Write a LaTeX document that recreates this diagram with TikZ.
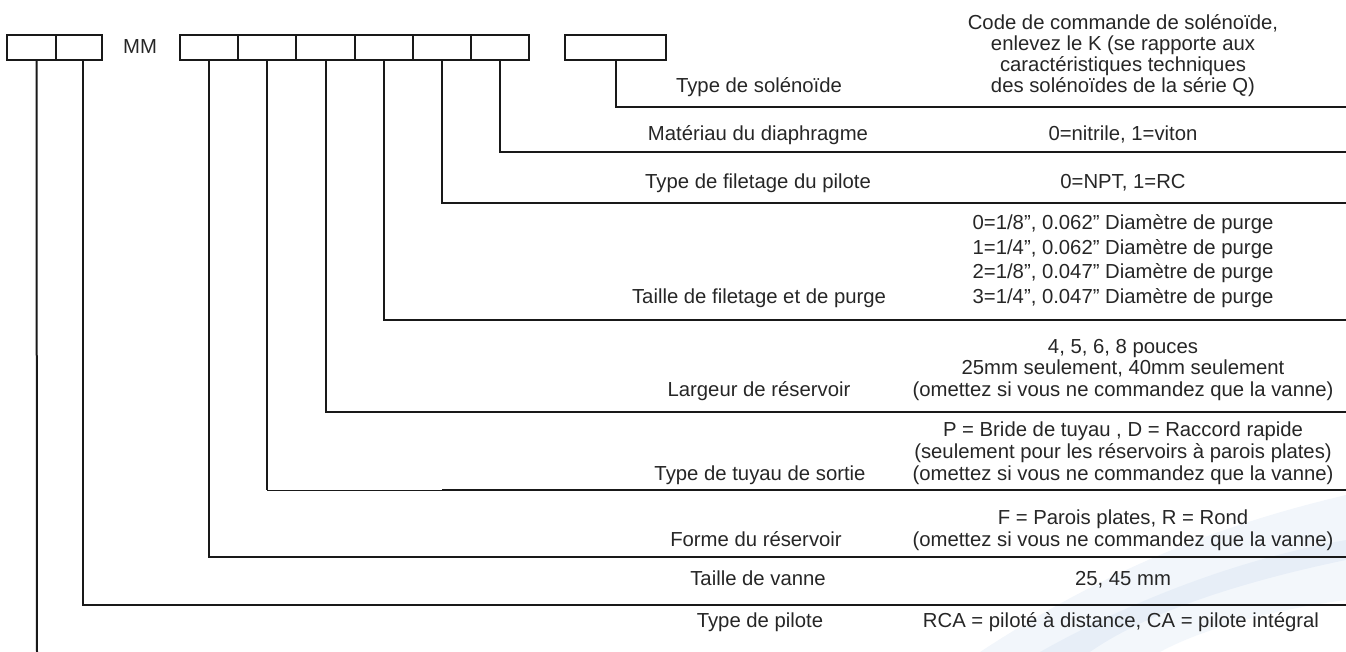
\documentclass[tikz,border=0pt]{standalone}
\usepackage{fontspec}
\setmainfont{Liberation Sans}
\begin{document}
\begin{tikzpicture}[x=1pt,y=-1pt,
  ln/.style={line width=2pt, draw=black!90},
  thinln/.style={line width=1pt, draw=black!90},
  cell/.style={draw=black!90, line width=2pt, minimum height=25pt, inner sep=0pt, outer sep=0pt, anchor=north west},
  lbl/.style={font=\fontsize{20.3}{21.5}\selectfont, inner sep=0pt, text=black!85, anchor=base},
  val/.style={font=\fontsize{20.3}{21.5}\selectfont, inner sep=0pt, text=black!85, align=center, anchor=base}]
\useasboundingbox (0,0) rectangle (1346,652);
% faint background swoosh
\fill[cyan!40!blue, opacity=0.06] (980,652) .. controls (1120,560) and (1240,520) .. (1346,495) -- (1346,560) .. controls (1250,580) and (1150,610) .. (1090,652) -- cycle;
\fill[cyan!40!blue, opacity=0.05] (1040,652) .. controls (1150,590) and (1260,555) .. (1346,540) -- (1346,600) .. controls (1270,610) and (1200,630) .. (1160,652) -- cycle;
% boxes
\node[cell, minimum width=49pt] (a1) at (7,35) {};
\node[cell, minimum width=46pt] (a2) at (56,35) {};
\node[font=\fontsize{20.3}{21.5}\selectfont, text=black!85, inner sep=0pt, anchor=base] (mm) at (140,54) {MM};
\foreach \i in {1,...,6}{
  \node[cell, minimum width=58.2pt] (b\i) at ({180+(\i-1)*58.2},35) {};
}
\node[cell, minimum width=101pt] (s) at (565,35) {};
% end coordinates
\coordinate (e1) at (37,652);
\coordinate (e2) at (1346,605);
\coordinate (e3) at (1346,557);
\coordinate (e4) at (1346,490);
\coordinate (e5) at (1346,412);
\coordinate (e6) at (1346,320);
\coordinate (e7) at (1346,203);
\coordinate (e8) at (1346,152);
\coordinate (e9) at (1346,107);
% connectors
\draw[ln] ([xshift=5pt]a1.south) -- (e1);
\draw[ln] ([xshift=4pt]a2.south) |- (e2);
\draw[ln] (b1.south) |- (e3);
\draw[ln] (b2.south) -- (b2.south |- e4);
\draw[thinln] (b2.south |- e4) -- (b5.south |- e4);
\draw[ln] (b5.south |- e4) -- (e4);
\draw[ln] (b3.south) |- (e5);
\draw[ln] (b4.south) |- (e6);
\draw[ln] (b5.south) |- (e7);
\draw[ln] (b6.south) |- (e8);
\draw[ln] (s.south) |- (e9);
% labels
\node[lbl] (l1) at (759,93) {Type de solénoïde};
\node[val, font=\fontsize{20.3}{21}\selectfont] (v1) at (1123,93) {Code de commande de solénoïde,\\enlevez le K (se rapporte aux\\caractéristiques techniques\\des solénoïdes de la série Q)};
\node[lbl] (l2) at (758,141) {Matériau du diaphragme};
\node[val] (v2) at (1123,141) {0=nitrile, 1=viton};
\node[lbl] (l3) at (758,189) {Type de filetage du pilote};
\node[val] (v3) at (1123,189) {0=NPT, 1=RC};
\node[lbl] (l4) at (759,303) {Taille de filetage et de purge};
\node[val, font=\fontsize{20.3}{24.5}\selectfont] (v4) at (1123,303) {0=1/8”, 0.062” Diamètre de purge\\1=1/4”, 0.062” Diamètre de purge\\2=1/8”, 0.047” Diamètre de purge\\3=1/4”, 0.047” Diamètre de purge};
\node[lbl] (l5) at (759,396) {Largeur de réservoir};
\node[val] (v5) at (1123,396) {4, 5, 6, 8 pouces\\25mm seulement, 40mm seulement\\(omettez si vous ne commandez que la vanne)};
\node[lbl] (l6) at (760,480) {Type de tuyau de sortie};
\node[val, font=\fontsize{20.3}{22}\selectfont] (v6) at (1123,480) {P = Bride de tuyau , D = Raccord rapide\\(seulement pour les réservoirs à parois plates)\\(omettez si vous ne commandez que la vanne)};
\node[lbl] (l7) at (756,546) {Forme du réservoir};
\node[val] (v7) at (1123,546) {F = Parois plates, R = Rond\\(omettez si vous ne commandez que la vanne)};
\node[lbl] (l8) at (758,585) {Taille de vanne};
\node[val] (v8) at (1123,585) {25, 45 mm};
\node[lbl] (l9) at (760,627) {Type de pilote};
\node[val] (v9) at (1121,627) {RCA = piloté à distance, CA = pilote intégral};
\end{tikzpicture}
\end{document}
